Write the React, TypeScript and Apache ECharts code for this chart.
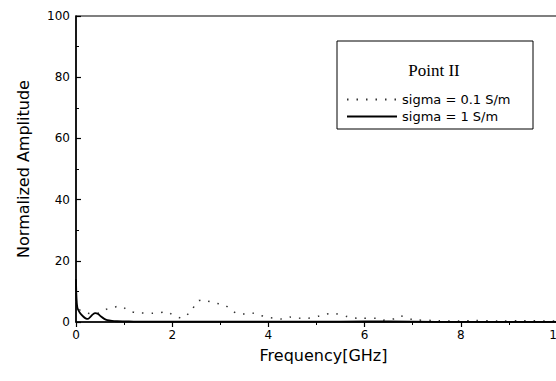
import React, { useEffect, useRef } from "react";
import * as echarts from "echarts";

const xTicks = [0, 2, 4, 6, 8, 10];
const yTicks = [0, 20, 40, 60, 80, 100];

const sigma1Freq = [0, 0.01, 0.03, 0.08, 0.15, 0.2, 0.25, 0.3, 0.35, 0.4, 0.46, 0.52, 0.58, 0.65, 0.75, 0.85, 1.0, 1.2, 1.5, 2, 3, 4, 5, 6, 7, 8, 9, 10];
const sigma1Amp = [14, 8, 4.6, 3.0, 1.8, 1.2, 1.0, 1.7, 2.5, 2.9, 2.6, 1.8, 1.1, 0.6, 0.35, 0.25, 0.2, 0.15, 0.12, 0.1, 0.1, 0.1, 0.1, 0.2, 0.1, 0.05, 0.05, 0.05];

const sigma01Freq = [0, 0.02, 0.15, 0.3, 0.5, 0.6, 0.7, 0.8, 0.9, 1.0, 1.1, 1.3, 1.6, 1.9, 2.0, 2.2, 2.3, 2.4, 2.5, 2.62, 2.72, 2.9, 3.1, 3.2, 3.4, 3.55, 3.68, 3.8, 3.97, 4.1, 4.28, 4.45, 4.6, 4.8, 5.06, 5.18, 5.35, 5.66, 5.9, 6.26, 6.38, 6.47, 6.56, 6.67, 6.74, 7.0, 7.42, 7.53, 8.0, 8.25, 8.8, 9.31, 9.4, 10];
const sigma01Amp = [10, 5, 3.3, 2.8, 3.0, 3.9, 4.6, 4.9, 5.2, 4.6, 3.6, 3.0, 2.9, 3.3, 2.4, 1.3, 2.3, 3.4, 6.5, 7.2, 6.9, 6.2, 5.5, 4.2, 2.6, 2.6, 2.9, 2.3, 1.6, 1.3, 1.0, 1.6, 1.3, 1.2, 2.0, 2.5, 2.8, 1.7, 1.2, 1.2, 0.6, 0.7, 0.9, 1.2, 2.0, 0.8, 0.5, 0.4, 0.3, 0.5, 0.3, 0.4, 0.4, 0.3];

const legendTitle = "Point II";
const seriesNames = ["sigma = 0.1 S/m", "sigma = 1 S/m"];
const xName = "Frequency[GHz]";
const yName = "Normalized Amplitude";

export default function App() {
  const ref = useRef<HTMLDivElement>(null);
  useEffect(() => {
    if (!ref.current) return;
    const chart = echarts.init(ref.current, undefined, { renderer: "svg" });
    const font = "DejaVu Sans";
    chart.setOption({
      animation: false,
      backgroundColor: "#fff",
      grid: {
        left: 76,
        top: 16,
        width: 481,
        height: 306,
        show: true,
        borderColor: "#000",
        borderWidth: 1.2,
      },
      xAxis: {
        type: "value",
        min: xTicks[0],
        max: xTicks[xTicks.length - 1],
        interval: 2,
        name: xName,
        nameLocation: "middle",
        nameGap: 25,
        nameTextStyle: { fontFamily: font, fontSize: 16, color: "#000", padding: [0, 0, 0, 14] },
        axisLine: { show: true, lineStyle: { color: "#000", width: 1.5 } },
        axisTick: { show: true, inside: false, length: 5, lineStyle: { color: "#000", width: 1.2 } },
        minorTick: { show: true, splitNumber: 2, length: 3, lineStyle: { color: "#000", width: 1 } },
        splitLine: { show: false },
        axisLabel: { fontFamily: font, fontSize: 12, color: "#000", margin: 7 },
      },
      yAxis: {
        type: "value",
        min: yTicks[0],
        max: yTicks[yTicks.length - 1],
        interval: 20,
        name: yName,
        nameLocation: "middle",
        nameGap: 45,
        nameTextStyle: { fontFamily: font, fontSize: 16, color: "#000" },
        axisLine: { show: true, lineStyle: { color: "#000", width: 1.5 } },
        axisTick: { show: true, inside: true, length: 5, lineStyle: { color: "#000", width: 1.2 } },
        minorTick: { show: true, splitNumber: 2, length: 3, lineStyle: { color: "#000", width: 1 } },
        splitLine: { show: false },
        axisLabel: { fontFamily: font, fontSize: 12, color: "#000", margin: 6 },
      },
      legend: {
        orient: "vertical",
        left: 346,
        top: 93,
        padding: 0,
        itemGap: 4,
        itemWidth: 50,
        itemHeight: 14,
        data: seriesNames,
        itemStyle: { opacity: 0 },
        textStyle: { fontFamily: font, fontSize: 13, color: "#000" },
      },
      graphic: [
        {
          type: "rect",
          shape: { x: 337, y: 41, width: 196, height: 88 },
          style: { fill: "none", stroke: "#000", lineWidth: 1 },
          z: 10,
        },
        {
          type: "text",
          x: 434,
          y: 70,
          style: {
            text: legendTitle,
            fontFamily: "Liberation Serif",
            fontSize: 17,
            fill: "#000",
            textAlign: "center",
            textVerticalAlign: "middle",
          },
          z: 10,
        },
      ],
      series: [
        {
          name: seriesNames[0],
          type: "line",
          data: sigma01Freq.map((f, i) => [f, sigma01Amp[i]]),
          showSymbol: false,
          symbol: "none",
          smooth: 0.3,
          lineStyle: { color: "#333", width: 1.5, type: [1.5, 8] },
          itemStyle: { color: "#333" },
        },
        {
          name: seriesNames[1],
          type: "line",
          data: sigma1Freq.map((f, i) => [f, sigma1Amp[i]]),
          showSymbol: false,
          symbol: "none",
          smooth: 0.3,
          lineStyle: { color: "#000", width: 1.8 },
          itemStyle: { color: "#000" },
        },
      ],
    });
    return () => chart.dispose();
  }, []);
  return (
    <div
      ref={ref}
      style={{ position: "fixed", left: 0, top: 0, width: 600, height: 381 }}
    />
  );
}
